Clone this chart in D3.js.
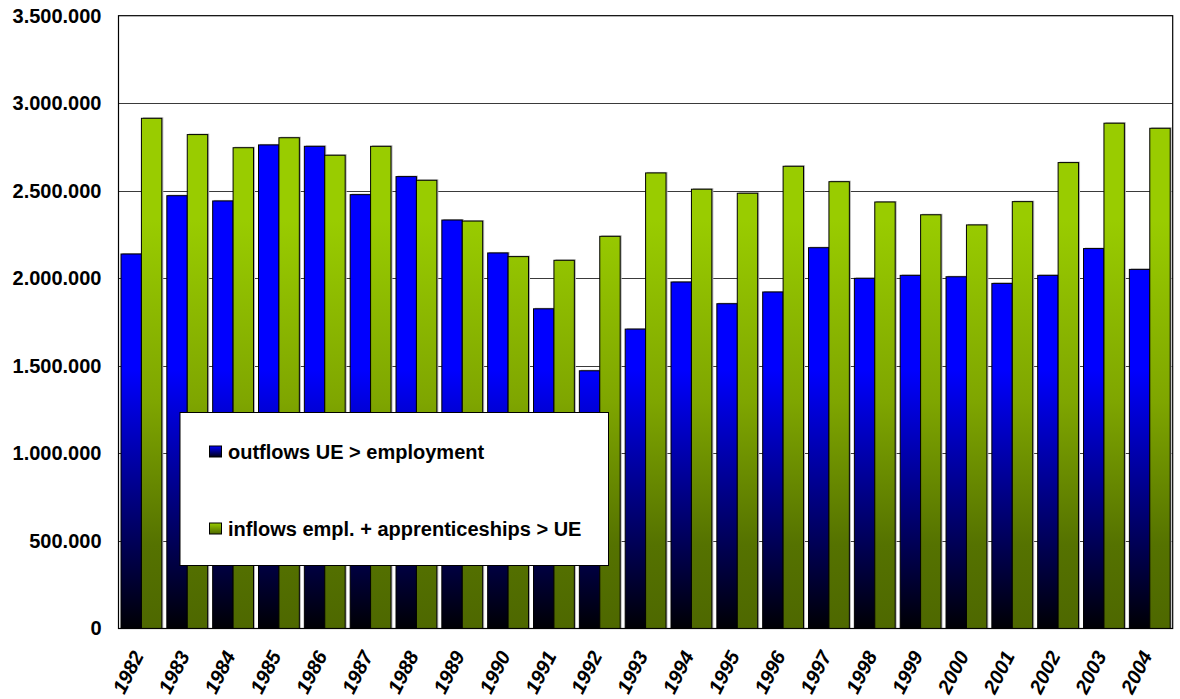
<!DOCTYPE html>
<html>
<head>
<meta charset="utf-8">
<script src="https://cdn.jsdelivr.net/npm/d3@7"></script>
<style>
  html, body { margin: 0; padding: 0; background: #fff; }
  svg { display: block; font-family: "Liberation Sans", Arial, sans-serif; }
</style>
</head>
<body>
<svg id="chart" width="1180" height="699"></svg>
<script>
// ---- data ----
const years = ["1982","1983","1984","1985","1986","1987","1988","1989","1990","1991","1992","1993","1994","1995","1996","1997","1998","1999","2000","2001","2002","2003","2004"];
const outflows = [2139000,2472000,2442000,2762000,2754000,2478000,2581000,2333000,2145000,1826000,1472000,1710000,1979000,1855000,1922000,2175000,2000000,2017000,2009000,1971000,2017000,2170000,2051000];
const inflows  = [2914000,2821000,2746000,2803000,2703000,2754000,2560000,2327000,2124000,2103000,2240000,2602000,2509000,2486000,2640000,2552000,2436000,2363000,2305000,2438000,2661000,2886000,2857000];
const seriesNames = ["outflows UE > employment", "inflows empl. + apprenticeships > UE"];
const yTicks = [0,500000,1000000,1500000,2000000,2500000,3000000,3500000];

(function(){
// ---- layout ----
const pL = 118.5, pR = 1172.7, pT = 15.7, pB = 628.5;
const svg = d3.select("#chart");

const x0 = d3.scaleBand().domain(years).range([pL, pR]).padding(0);
const gap = 5;
const x1 = d3.scaleBand().domain(["out","in"]).range([gap/2, x0.bandwidth() - gap/2]).padding(0);
const y = d3.scaleLinear().domain([0, 3500000]).range([pB, pT]);

const fmt = v => d3.format(",")(v).replace(/,/g, ".");

// gradients (in user space, shared across all bars)
const defs = svg.append("defs");
const gBlue = defs.append("linearGradient").attr("id","gBlue")
  .attr("gradientUnits","userSpaceOnUse").attr("x1",0).attr("x2",0).attr("y1",pT).attr("y2",pB);
[[0,"#0000ff"],[(370-pT)/(pB-pT),"#0000ff"],[(500-pT)/(pB-pT),"#000080"],[1,"#000004"]]
  .forEach(([o,c]) => gBlue.append("stop").attr("offset",o).attr("stop-color",c));
const gGreen = defs.append("linearGradient").attr("id","gGreen")
  .attr("gradientUnits","userSpaceOnUse").attr("x1",0).attr("x2",0).attr("y1",pT).attr("y2",pB);
[[0,"#99cc00"],[(220-pT)/(pB-pT),"#99cc00"],[(400-pT)/(pB-pT),"#7fa600"],[(545-pT)/(pB-pT),"#557200"],[1,"#4e6800"]]
  .forEach(([o,c]) => gGreen.append("stop").attr("offset",o).attr("stop-color",c));
const lgB = defs.append("linearGradient").attr("id","lgBlue").attr("x1",0).attr("x2",0).attr("y1",0).attr("y2",1);
lgB.append("stop").attr("offset",0).attr("stop-color","#0000ff");
lgB.append("stop").attr("offset",1).attr("stop-color","#000010");
const lgG = defs.append("linearGradient").attr("id","lgGreen").attr("x1",0).attr("x2",0).attr("y1",0).attr("y2",1);
lgG.append("stop").attr("offset",0).attr("stop-color","#99cc00");
lgG.append("stop").attr("offset",1).attr("stop-color","#4e6800");

svg.append("rect").attr("x",pL).attr("y",pT).attr("width",pR-pL).attr("height",pB-pT).attr("fill","#fff");

// gridlines
svg.append("g").selectAll("line").data(yTicks.filter(t => t>0 && t<3500000)).join("line")
  .attr("x1",pL).attr("x2",pR)
  .attr("y1",d => Math.round(y(d))+0.5).attr("y2",d => Math.round(y(d))+0.5)
  .attr("stroke","#3a3a3a").attr("stroke-width",1);

// bars
const data = years.map((yr,i) => ({yr, out: outflows[i], inn: inflows[i]}));
const groups = svg.append("g").selectAll("g").data(data).join("g")
  .attr("transform", d => `translate(${x0(d.yr)},0)`);

const bars = groups.selectAll("g.bar").data(d => [
  {k:"out", v:d.out, fill:"url(#gBlue)"},
  {k:"in", v:d.inn, fill:"url(#gGreen)"}
]).join("g").attr("class","bar");

bars.append("rect")
  .attr("x", d => x1(d.k) + 1.5).attr("y", d => y(d.v) - 1)
  .attr("width", x1.bandwidth()).attr("height", d => pB - y(d.v) + 1)
  .attr("fill","#b4b4b4");
bars.append("rect")
  .attr("x", d => x1(d.k)).attr("y", d => y(d.v))
  .attr("width", x1.bandwidth()).attr("height", d => pB - y(d.v))
  .attr("fill", d => d.fill).attr("stroke","#000").attr("stroke-width",1);

// plot border
svg.append("rect").attr("x",pL).attr("y",pT).attr("width",pR-pL).attr("height",pB-pT)
  .attr("fill","none").attr("stroke","#000").attr("stroke-width",1.2);

// y axis labels
const yAxis = d3.axisLeft(y).tickValues(yTicks).tickFormat(fmt).tickSize(0).tickPadding(17);
const ya = svg.append("g").attr("transform",`translate(${pL},0)`).call(yAxis);
ya.select(".domain").remove();
ya.selectAll("text").attr("font-size",20).attr("font-weight","bold").attr("fill","#000")
  .attr("font-family","'Liberation Sans', Arial, sans-serif");

// x axis labels
const xAxis = d3.axisBottom(x0).tickSize(0).tickPadding(0);
const xa = svg.append("g").attr("transform",`translate(0,${pB})`).call(xAxis);
xa.select(".domain").remove();
xa.selectAll("text")
  .attr("font-size",20).attr("font-weight","bold").attr("font-style","italic").attr("fill","#000")
  .attr("font-family","'Liberation Sans', Arial, sans-serif")
  .attr("text-anchor","end").attr("dy",0).attr("y",0)
  .attr("transform","translate(3,27) rotate(-63)");

// legend
const lx = 180, ly = 412.5, lw = 428.5, lh = 153;
const lg = svg.append("g");
lg.append("rect").attr("x",lx).attr("y",ly).attr("width",lw).attr("height",lh)
  .attr("fill","#fff").attr("stroke","#000").attr("stroke-width",1);
const items = [{name: seriesNames[0], fill:"url(#lgBlue)", yy: 452},
               {name: seriesNames[1], fill:"url(#lgGreen)", yy: 529}];
items.forEach(it => {
  lg.append("rect").attr("x",209.5).attr("y",it.yy-6).attr("width",12).attr("height",11)
    .attr("fill",it.fill).attr("stroke","#000").attr("stroke-width",1);
  lg.append("text").attr("x",228).attr("y",it.yy+7).text(it.name)
    .attr("font-size",20).attr("font-weight","bold").attr("fill","#000");
});
})();
</script>
</body>
</html>
